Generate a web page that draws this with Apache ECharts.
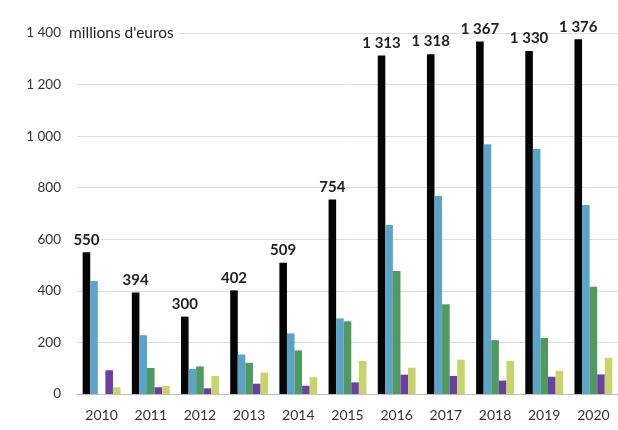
<!DOCTYPE html>
<html><head><meta charset="utf-8">
<script src="https://cdn.jsdelivr.net/npm/echarts@6/dist/echarts.min.js"></script>
<style>html,body{margin:0;padding:0;background:#fff}#c{width:618px;height:430px}</style>
</head><body><div id="c"></div>
<script>
var years = ['2010','2011','2012','2013','2014','2015','2016','2017','2018','2019','2020'];
var totalValues  = [550, 394, 300, 402, 509, 754, 1313, 1318, 1367, 1330, 1376];
var blueValues   = [438, 228, 97, 153, 235, 293, 655, 768, 969, 950, 733];
var greenValues  = [-15, 101, 107, 121, 169, 282, 477, 348, 209, 217, 416];
var purpleValues = [92, 26, 22, 40, 32, 45, 75, 70, 52, 67, 76];
var yellowValues = [26, 31, 70, 83, 65, 128, 102, 133, 129, 90, 140];
var yTicks = [0, 200, 400, 600, 800, 1000, 1200, 1400];
var unitLabel = "millions d'euros";

function fmt(v){ return String(v).replace(/\B(?=(\d{3})+(?!\d))/g, ' '); }
var font = 'Lato, "Open Sans", sans-serif';
function bar(data, color, withLabel){
  var s = {type:'bar', data:data, barGap:'0%', barCategoryGap:'23%', itemStyle:{color:color}};
  if (withLabel) s.label = {show:true, position:'top', distance:5, fontFamily:font, fontWeight:'bold', fontSize:15, color:'#222', formatter:function(p){return fmt(p.value);}};
  return s;
}
var chart = echarts.init(document.getElementById('c'), null, {renderer:'canvas'});
chart.setOption({
  animation:false,
  backgroundColor:'#fff',
  title:{text:unitLabel, left:64, top:24, padding:[1,5,1,5], backgroundColor:'#fff', textStyle:{fontFamily:font, fontWeight:'normal', fontSize:15.5, color:'#222'}},
  grid:{left:77, right:0, top:33, bottom:36, containLabel:false},
  xAxis:{type:'category', data:years, axisTick:{show:false},
    axisLine:{lineStyle:{color:'#bdbdbd', width:1}},
    axisLabel:{margin:14, fontFamily:font, fontSize:14, color:'#333'}},
  yAxis:{type:'value', min:yTicks[0], max:yTicks[yTicks.length-1], interval:200,
    axisLine:{show:false}, axisTick:{show:false},
    splitLine:{lineStyle:{color:'#dcdcdc', width:1}},
    axisLabel:{margin:16, fontFamily:font, fontSize:13.5, color:'#333', formatter:function(v){return fmt(v);}}},
  series:[
    bar(totalValues, '#050505', true),
    bar(blueValues, '#5ba4c9', false),
    bar(greenValues, '#4e9a5f', false),
    bar(purpleValues, '#6a3fa0', false),
    bar(yellowValues, '#c8d46b', false)
  ]
});
</script></body></html>
